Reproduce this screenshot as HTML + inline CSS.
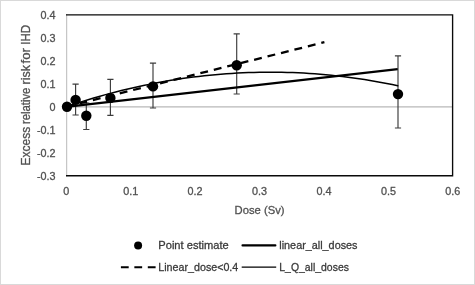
<!DOCTYPE html>
<html><head><meta charset="utf-8"><title>Excess relative risk for IHD</title>
<style>
html,body{margin:0;padding:0;background:#fff;overflow:hidden;}
svg{display:block;will-change:transform;}
text{font-family:"Liberation Sans", sans-serif;stroke-width:0.3px;paint-order:stroke fill;}
</style></head><body>
<svg width="475" height="285" viewBox="0 0 475 285">
<rect x="0" y="0" width="475" height="285" fill="#fff"/>
<rect x="0.5" y="0.5" width="474" height="284" fill="none" stroke="#d9d9d9" stroke-width="1"/>

<line x1="66.0" y1="106.85" x2="452.5" y2="106.85" stroke="#b8b8b8" stroke-width="1.2"/>
<line x1="66.6" y1="14.2" x2="66.6" y2="176.3" stroke="#c6c6c6" stroke-width="1.25"/>
<polyline points="66.0,14.85 452.6,14.85 452.6,175.7 66.0,175.7" fill="none" stroke="#0a0a0a" stroke-width="1.35" stroke-linejoin="miter"/>
<text x="55.6" y="18.6" font-size="10.8" fill="#505050" stroke="#505050" text-anchor="end">0.4</text>
<text x="55.6" y="41.6" font-size="10.8" fill="#505050" stroke="#505050" text-anchor="end">0.3</text>
<text x="55.6" y="64.6" font-size="10.8" fill="#505050" stroke="#505050" text-anchor="end">0.2</text>
<text x="55.6" y="87.6" font-size="10.8" fill="#505050" stroke="#505050" text-anchor="end">0.1</text>
<text x="55.6" y="110.6" font-size="10.8" fill="#505050" stroke="#505050" text-anchor="end">0</text>
<text x="55.6" y="133.6" font-size="10.8" fill="#505050" stroke="#505050" text-anchor="end">-0.1</text>
<text x="55.6" y="156.6" font-size="10.8" fill="#505050" stroke="#505050" text-anchor="end">-0.2</text>
<text x="55.6" y="179.6" font-size="10.8" fill="#505050" stroke="#505050" text-anchor="end">-0.3</text>
<text x="66.3" y="194.7" font-size="10.8" fill="#505050" stroke="#505050" text-anchor="middle">0</text>
<text x="130.7" y="194.7" font-size="10.8" fill="#505050" stroke="#505050" text-anchor="middle">0.1</text>
<text x="195.1" y="194.7" font-size="10.8" fill="#505050" stroke="#505050" text-anchor="middle">0.2</text>
<text x="259.6" y="194.7" font-size="10.8" fill="#505050" stroke="#505050" text-anchor="middle">0.3</text>
<text x="324.0" y="194.7" font-size="10.8" fill="#505050" stroke="#505050" text-anchor="middle">0.4</text>
<text x="388.4" y="194.7" font-size="10.8" fill="#505050" stroke="#505050" text-anchor="middle">0.5</text>
<text x="452.8" y="194.7" font-size="10.8" fill="#505050" stroke="#505050" text-anchor="middle">0.6</text>
<text x="259.6" y="214.3" font-size="11.8" fill="#505050" stroke="#505050" text-anchor="middle" textLength="50" lengthAdjust="spacingAndGlyphs">Dose (Sv)</text>
<text transform="translate(29.6,165.1) rotate(-90)" font-size="12.2" fill="#505050" stroke="#505050"><tspan x="-0.3" textLength="38.6" lengthAdjust="spacingAndGlyphs">Excess</tspan> <tspan x="41.1" textLength="36.3" lengthAdjust="spacingAndGlyphs">relative</tspan> <tspan x="80.7" textLength="19.4" lengthAdjust="spacingAndGlyphs">risk</tspan> <tspan x="101.7" textLength="15.3" lengthAdjust="spacingAndGlyphs">for</tspan> <tspan x="120.3" textLength="19.8" lengthAdjust="spacingAndGlyphs">IHD</tspan></text>
<path d="M75.6,84.15 V115.0 M72.5,84.15 H78.69999999999999 M72.5,115.0 H78.69999999999999" stroke="#3c3c3c" stroke-width="1.15" fill="none"/>
<path d="M86.3,103.0 V129.5 M83.2,103.0 H89.39999999999999 M83.2,129.5 H89.39999999999999" stroke="#3c3c3c" stroke-width="1.15" fill="none"/>
<path d="M110.4,79.3 V115.4 M107.30000000000001,79.3 H113.5 M107.30000000000001,115.4 H113.5" stroke="#3c3c3c" stroke-width="1.15" fill="none"/>
<path d="M153.0,63.1 V108.0 M149.9,63.1 H156.1 M149.9,108.0 H156.1" stroke="#3c3c3c" stroke-width="1.15" fill="none"/>
<path d="M236.7,33.8 V93.95 M233.6,33.8 H239.79999999999998 M233.6,93.95 H239.79999999999998" stroke="#3c3c3c" stroke-width="1.15" fill="none"/>
<path d="M398.0,55.9 V128.0 M394.9,55.9 H401.1 M394.9,128.0 H401.1" stroke="#3c3c3c" stroke-width="1.15" fill="none"/>
<line x1="66.0" y1="106.8" x2="397.7" y2="69.1" stroke="#000" stroke-width="2.3" stroke-linecap="butt"/>
<path d="M66.00,106.78 L71.53,104.93 L77.06,103.13 L82.59,101.38 L88.12,99.68 L93.65,98.03 L99.17,96.44 L104.70,94.89 L110.23,93.40 L115.76,91.95 L121.29,90.56 L126.82,89.22 L132.35,87.93 L137.88,86.69 L143.41,85.50 L148.94,84.36 L154.47,83.27 L159.99,82.23 L165.52,81.25 L171.05,80.31 L176.58,79.43 L182.11,78.59 L187.64,77.81 L193.17,77.08 L198.70,76.40 L204.23,75.77 L209.76,75.19 L215.29,74.66 L220.81,74.18 L226.34,73.76 L231.87,73.38 L237.40,73.06 L242.93,72.78 L248.46,72.56 L253.99,72.38 L259.52,72.26 L265.05,72.19 L270.58,72.17 L276.11,72.20 L281.63,72.28 L287.16,72.42 L292.69,72.60 L298.22,72.84 L303.75,73.12 L309.28,73.46 L314.81,73.84 L320.34,74.28 L325.87,74.77 L331.40,75.31 L336.93,75.90 L342.45,76.54 L347.98,77.23 L353.51,77.97 L359.04,78.77 L364.57,79.61 L370.10,80.51 L375.63,81.45 L381.16,82.45 L386.69,83.50 L392.22,84.60 L397.75,85.75" fill="none" stroke="#000" stroke-width="1.5" stroke-linecap="round" stroke-linejoin="round"/>
<line x1="66.0" y1="106.8" x2="324.4" y2="42.2" stroke="#000" stroke-width="2.3" stroke-dasharray="7.9 5.95"/>
<circle cx="67.0" cy="106.8" r="5.2" fill="#000"/>
<circle cx="75.6" cy="99.9" r="5.2" fill="#000"/>
<circle cx="86.3" cy="115.8" r="5.2" fill="#000"/>
<circle cx="110.4" cy="97.9" r="5.2" fill="#000"/>
<circle cx="153.0" cy="86.4" r="5.2" fill="#000"/>
<circle cx="236.7" cy="65.2" r="5.2" fill="#000"/>
<circle cx="398.0" cy="94.1" r="5.2" fill="#000"/>
<circle cx="138.1" cy="245.4" r="4" fill="#000"/>
<text x="158.3" y="248.9" font-size="11.8" fill="#383838" stroke="#383838" textLength="70.4" lengthAdjust="spacingAndGlyphs">Point estimate</text>
<line x1="242.5" y1="245.4" x2="275.4" y2="245.4" stroke="#000" stroke-width="2.1" stroke-linecap="round"/>
<text x="279.3" y="248.9" font-size="11.8" fill="#383838" stroke="#383838" textLength="78.2" lengthAdjust="spacingAndGlyphs">linear_all_doses</text>
<line x1="120.9" y1="267.2" x2="155.7" y2="267.2" stroke="#000" stroke-width="2.0" stroke-dasharray="7.8 5.65"/>
<text x="158.3" y="270.9" font-size="11.8" fill="#383838" stroke="#383838" textLength="80" lengthAdjust="spacingAndGlyphs">Linear_dose&lt;0.4</text>
<line x1="241.7" y1="267.2" x2="276.2" y2="267.2" stroke="#000" stroke-width="1.3"/>
<text x="279.3" y="270.9" font-size="11.8" fill="#383838" stroke="#383838" textLength="69.6" lengthAdjust="spacingAndGlyphs">L_Q_all_doses</text>
</svg></body></html>
